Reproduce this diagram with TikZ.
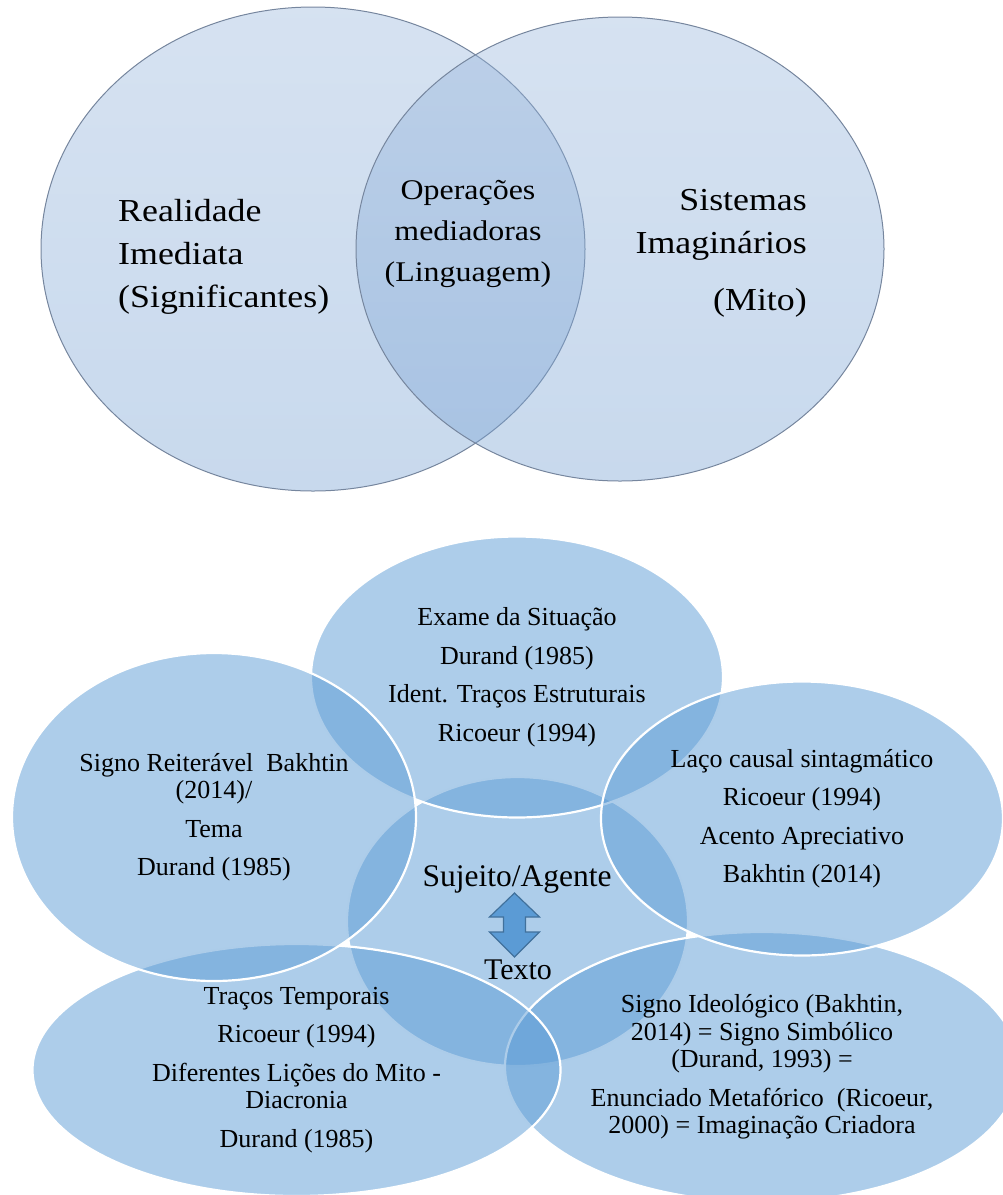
\documentclass[tikz,border=0pt]{standalone}
\usepackage{fontspec}
\setmainfont{Liberation Serif}
\newfontfamily\vennfont{Liberation Serif}[FakeStretch=1.12]
\usetikzlibrary{shapes.geometric}
\definecolor{vtop}{RGB}{152,182,220}
\definecolor{vbot}{RGB}{117,160,210}
\definecolor{vline}{RGB}{118,134,158}
\definecolor{sablue}{RGB}{91,155,213}
\definecolor{sadark}{RGB}{65,113,156}
\tikzset{
  venn/.style={ellipse, draw=vline, line width=1pt, top color=vtop, bottom color=vbot, fill opacity=0.4, inner sep=0pt},
  vtext/.style={font=\vennfont\fontsize{32}{43}\selectfont, inner sep=0pt},
  blob/.style={ellipse, fill=sablue, fill opacity=0.5, text opacity=1, draw=white, line width=2.2pt,
    inner sep=0pt, align=center, font=\fontsize{26}{27.5}\selectfont},
  blockarrow/.style={fill=sablue, draw=sadark, line width=1.2pt, line join=miter}
}
\begin{document}
\begin{tikzpicture}[x=1pt,y=-1pt]
        \useasboundingbox (0,0) rectangle (1003,1195);
        \clip (0,0) rectangle (1003,1195);
        % Venn
        \node[venn, minimum width=544, minimum height=484] (real) at (313,249) {};
        \node[venn, minimum width=528, minimum height=464] (mito) at (620,249) {};
        \node[vtext, align=left, anchor=west] (realT) at (118,257) {Realidade\\Imediata\\(Significantes)};
        \node[vtext, align=right, anchor=east] (mitoT) at (807,253) {Sistemas\\Imaginários\\[14pt](Mito)};
        \node[vtext, align=center, font=\vennfont\fontsize{28.5}{41}\selectfont] (lingT) at (468,234) {Operações\\mediadoras\\(Linguagem)};
        % radial
        \node[blob, minimum width=341, minimum height=289] (agente) at (517.5,921.5) {};
        \node[blob, minimum width=412, minimum height=281] (exame) at (517,677) {Exame da Situação\\[11pt]Durand (1985)\\[11pt]Ident. Traços Estruturais\\[11pt]Ricoeur (1994)};
        \node[blob, minimum width=514, minimum height=270] (signo) at (762,1067) {Signo Ideológico (Bakhtin,\\2014) = Signo Simbólico\\(Durand, 1993) =\\[11pt]Enunciado Metafórico\ \ (Ricoeur,\\2000) = Imaginação Criadora};
        \node[blob, minimum width=528, minimum height=252] (tracos) at (296.5,1070) {Traços Temporais\\[11pt]Ricoeur (1994)\\[11pt]Diferentes Lições do Mito -\\Diacronia\\[11pt]Durand (1985)};
        \node[blob, minimum width=404, minimum height=328] (tema) at (214,817) {Signo Reiterável\ \ Bakhtin\\(2014)/\\[11pt]Tema\\[11pt]Durand (1985)};
        \node[blob, minimum width=402, minimum height=274] (laco) at (802,818.5) {Laço causal sintagmático\\[11pt]Ricoeur (1994)\\[11pt]Acento Apreciativo\\[11pt]Bakhtin (2014)};
        \node[font=\fontsize{31.5}{36}\selectfont, anchor=base, inner sep=0pt] (sujeito) at (517,886) {Sujeito/Agente};
        \node[font=\fontsize{30}{36}\selectfont, anchor=base, inner sep=0pt] (texto) at (518,979) {Texto};
        \coordinate (arw) at (514.5,925);
        \draw[blockarrow] ([yshift=32pt]arw) -- ++(25,24) -- ++(-14,0) -- ++(0,15) -- ++(14,0) -- ++(-25,25) -- ++(-25,-25) -- ++(14,0) -- ++(0,-15) -- ++(-14,0) -- cycle;
    \end{tikzpicture}
\end{document}
